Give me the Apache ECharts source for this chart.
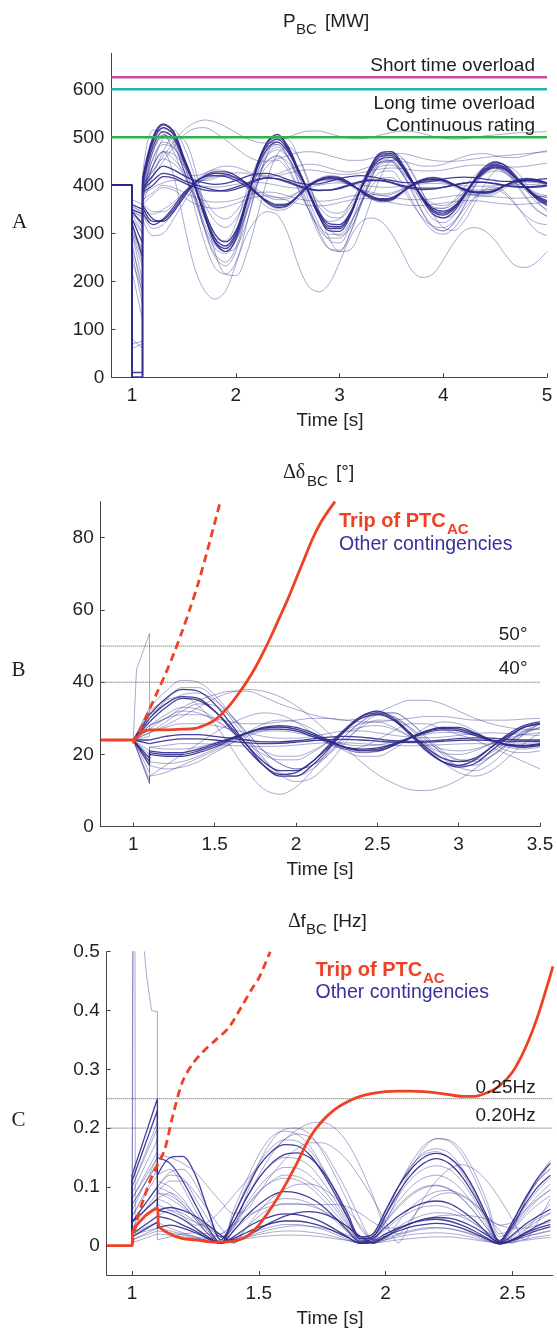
<!DOCTYPE html>
<html>
<head>
<meta charset="utf-8">
<script src="https://cdn.jsdelivr.net/npm/echarts@6/dist/echarts.min.js"></script>
<style>
  html, body { margin: 0; padding: 0; background: #ffffff; }
  #chart { width: 557px; height: 1331px; }
</style>
</head>
<body>
<div id="chart"></div>
<script>
// ---------------- Panel A: active power P_BC [MW] ----------------
const timeA = [1.1,1.2,1.3,1.4,1.5,1.6,1.7,1.8,1.9,2.0,2.1,2.2,2.3,2.4,2.5,2.6,2.7,2.8,2.9,3.0,
               3.1,3.2,3.3,3.4,3.5,3.6,3.7,3.8,3.9,4.0,4.1,4.2,4.3,4.4,4.5,4.6,4.7,4.8,4.9,5.0];
const powerPreFault = 400;
const powerTicksX = [1, 2, 3, 4, 5];
const powerTicksY = [0, 100, 200, 300, 400, 500, 600];
const shortTimeOverload = 625;
const longTimeOverload = 600;
const continuousRating = 500;

const powerInPhase = [
  { fault: [0, 0],     wave: [410,495,526,510,455,400,335,282,268,295,365,440,488,502,478,432,385,338,310,310,338,392,438,465,466,442,408,372,345,338,350,378,410,434,444,436,416,394,374,362] },
  { fault: [0, 0],     wave: [400,480,512,498,450,402,345,298,282,305,368,432,475,490,470,430,388,345,320,318,342,390,430,455,458,438,405,375,352,346,356,380,408,428,438,432,414,395,378,368] },
  { fault: [340, 300], wave: [390,500,520,505,445,385,310,255,240,270,350,435,490,505,480,425,370,320,285,280,315,375,430,465,470,445,405,360,330,322,336,370,408,438,450,442,418,390,364,350] },
  { fault: [360, 340], wave: [380,440,470,465,440,405,370,340,330,345,380,420,450,460,448,420,392,365,345,342,360,392,420,440,442,428,405,380,362,358,366,386,408,424,430,425,410,396,384,378] },
  { fault: [300, 200], wave: [360,470,505,495,440,380,305,250,232,262,340,420,470,485,462,412,360,305,268,262,300,360,418,450,452,428,390,345,315,305,322,358,398,428,440,432,406,376,350,335] },
  { fault: [350, 330], wave: [420,515,510,470,420,380,330,290,285,320,385,445,480,485,460,420,380,345,325,330,360,400,438,455,450,425,395,368,352,352,368,395,420,435,436,425,405,388,378,375] },
  { fault: [0, 0],     wave: [405,490,520,505,452,398,338,288,274,300,366,436,482,496,474,430,386,342,315,314,340,390,434,460,462,440,406,374,348,342,353,379,409,431,441,434,415,394,376,365] },
  { fault: [320, 260], wave: [395,485,518,508,458,404,342,290,272,296,362,434,484,500,478,434,388,343,314,312,336,388,434,462,464,443,409,374,347,340,351,377,408,432,443,436,417,395,375,364] },
  { fault: [0, 0],     wave: [415,500,528,512,458,402,336,280,262,288,360,438,490,506,482,435,386,336,305,304,334,390,440,468,470,446,410,370,340,332,345,376,412,438,448,440,418,393,372,358] },
  { fault: [350, 310], wave: [385,455,485,478,445,405,360,325,312,330,372,425,462,474,458,425,390,356,335,332,352,390,425,448,450,432,405,376,356,352,361,384,410,428,435,428,411,394,381,374] },
  { fault: [270, 190], wave: [370,440,500,515,480,420,350,290,262,270,320,395,462,498,496,460,405,350,310,295,310,355,410,452,468,458,425,384,350,332,338,365,402,432,446,442,422,396,372,358] }
];
const powerAntiPhase = [
  { fault: [330, 280], wave: [360,330,325,345,375,403,420,428,428,420,405,385,364,354,358,378,400,412,418,416,405,388,374,368,370,385,402,412,416,412,402,390,384,383,388,400,410,414,412,405] },
  { fault: [320, 250], wave: [345,318,330,355,385,405,418,420,418,410,398,382,368,360,362,378,398,410,414,412,402,390,378,372,374,386,400,410,412,410,402,392,386,386,390,400,408,410,408,404] },
  { fault: [280, 170], wave: [330,295,300,330,365,395,415,425,422,412,395,375,355,348,352,372,395,410,416,412,400,385,372,366,368,382,398,408,412,408,398,386,378,376,382,395,405,410,408,400] },
  { fault: [355, 345], wave: [350,340,350,365,385,400,412,418,420,416,406,392,380,374,376,386,398,408,410,408,400,392,386,382,384,392,400,406,408,406,400,394,390,390,393,400,405,407,405,402] },
  { fault: [345, 320], wave: [355,325,328,350,380,404,419,425,424,416,402,384,366,357,360,378,399,411,416,414,404,389,376,370,372,386,401,410,414,410,401,391,386,385,389,400,409,412,410,404] },
  { fault: [300, 230], wave: [340,310,318,345,378,406,424,432,430,420,403,382,362,352,356,376,400,414,420,417,405,387,372,365,368,384,402,413,417,413,402,389,381,380,386,400,411,415,412,405] },
  { fault: [360, 350], wave: [365,345,345,360,382,402,414,420,420,414,402,388,376,370,372,384,399,409,412,410,401,391,383,379,381,390,400,407,410,408,401,393,388,387,391,400,406,409,407,403] }
];
const powerSteady = [
  { fault: [360, 350], wave: [390,410,425,420,410,402,395,390,388,392,400,410,415,414,408,400,394,390,390,393,400,406,410,410,406,400,396,394,394,396,400,404,406,406,404,400,398,397,398,400] },
  { fault: [370, 360], wave: [380,395,405,410,408,402,398,396,398,402,405,406,404,400,396,394,396,400,404,405,403,400,398,396,396,398,401,403,404,403,401,399,398,398,399,401,402,402,401,400] },
  { fault: [80, 60],   wave: [370,385,400,395,385,375,368,365,366,370,378,384,386,384,378,372,368,367,368,372,377,380,381,379,375,372,370,370,372,375,378,380,380,378,376,374,373,374,376,378] },
  { fault: [340, 320], wave: [400,440,470,455,430,420,425,435,440,438,430,422,420,424,432,440,444,442,436,430,428,432,440,448,452,450,445,440,440,444,452,460,465,466,462,458,458,462,468,472] },
  { fault: [10, 10],   wave: [395,420,440,432,420,410,405,402,404,410,418,424,425,420,412,405,402,403,408,414,418,420,418,414,410,406,405,406,409,413,416,417,416,413,410,408,408,410,412,414] },
  { fault: [350, 340], wave: [385,400,418,415,405,396,390,388,390,396,404,412,416,413,406,398,392,389,390,395,402,408,411,410,405,398,393,391,392,396,401,405,407,406,403,399,396,395,396,399] },
  { fault: [330, 300], wave: [400,430,455,445,425,412,410,415,422,426,425,420,418,420,425,430,432,430,426,423,423,426,430,434,436,435,432,430,430,432,436,440,442,442,440,438,438,440,443,446] },
  { fault: [60, 70],   wave: [360,380,395,390,375,362,355,352,355,362,370,376,378,375,368,362,358,357,359,364,369,372,372,369,364,360,358,358,360,363,366,368,368,366,363,361,360,361,363,365] }
];
const powerOutliers = [
  { fault: [260, 150], wave: [380,440,470,420,320,230,180,163,180,235,295,330,345,338,300,235,190,178,195,240,290,322,332,325,300,262,222,208,215,245,280,305,312,305,285,255,232,229,240,262] },
  { fault: [220, 120], wave: [360,420,470,500,495,440,350,260,215,212,255,330,410,465,480,460,410,345,290,262,265,305,365,420,452,455,428,385,340,312,306,325,362,402,430,440,430,402,370,345] },
  { fault: [345, 335], wave: [400,430,460,490,515,530,536,532,522,510,498,490,488,492,500,508,513,513,508,502,498,497,500,505,510,513,512,508,502,498,496,497,500,503,505,507,509,510,511,512] },
  { fault: [300, 270], wave: [390,420,450,480,505,518,520,510,495,478,462,452,450,455,462,468,470,468,462,456,452,452,456,462,466,466,462,456,452,450,450,452,455,458,460,462,464,466,468,470] },
  { fault: [70, 75],   wave: [390,470,500,485,430,370,310,268,258,285,345,408,450,462,440,395,350,310,290,290,318,362,405,428,430,405,368,330,305,298,310,340,372,392,396,385,360,330,305,295] },
  { fault: [310, 240], wave: [380,455,490,480,430,375,318,275,262,285,340,400,440,452,432,392,350,315,298,298,322,360,395,415,416,395,362,332,315,312,325,350,375,390,392,380,358,336,322,318] },
  { fault: [240, 180], wave: [385,470,505,490,430,355,280,228,215,240,315,400,462,480,458,408,350,298,268,265,298,355,412,445,448,425,385,342,312,305,320,355,395,425,436,428,402,372,348,336] }
];

// ---------------- Panel B: angle difference Δδ_BC [°] ----------------
const timeB = [1.1,1.2,1.3,1.4,1.5,1.6,1.7,1.8,1.9,2.0,2.1,2.2,2.3,2.4,2.5,2.6,2.7,2.8,2.9,3.0,3.1,3.2,3.3,3.4,3.5];
const anglePreFault = 24;
const angleTicksX = [1, 1.5, 2, 2.5, 3, 3.5];
const angleTicksY = [0, 20, 40, 60, 80];
const angleLimits = [50, 40];

const angleInPhase = [
  { fault: 33, wave: [33,37.5,40.5,40,36.5,31,25,19,14.5,12.5,13.5,17.5,23,28,31,31.5,29,24.5,20,16.5,15.5,17.5,21.5,25.5,28.5] },
  { fault: 30, wave: [30,34,36,35.5,32,27,21.5,17,14.5,15,18,22.5,27,30.5,31.5,29.5,25.5,21,18,17,18.5,22,25.5,28,29] },
  { fault: 29, wave: [29,33,35.5,35,32,27.5,22.5,18,15.5,15.5,18,22,26.5,30,31,29.5,26,22,19,18,19,22,25,27.5,28.5] },
  { fault: 27, wave: [28,31,33,32.5,30,26.5,23,20,18.5,18.5,20.5,23.5,26.5,28.5,29,27.5,25,22.5,20.5,20,21,23,25,26.5,27] },
  { fault: 32, wave: [32,35,36,33.5,28.5,22,15.5,10.5,9,11,15.5,21,26.5,30.5,32,30.5,27,22.5,18,15,14,15.5,19,23,26] },
  { fault: 12, wave: [14,17,20,23,26,28.5,30.5,31.5,31,29,26,23,21.5,22,24,26.5,28.5,28.5,27,25.5,24,22,20,18,16] },
  { fault: 31, wave: [31,35.5,38,37.5,34,28.5,22.5,17,14,14,17,21.5,26.5,30.5,32,30,26,21.5,18,16.5,17.5,21,24.5,27.5,28.5] },
  { fault: 30, wave: [30,35,38.5,38.5,35.5,30,24,18.5,15,14,16,20,25,29,31,30.5,27.5,23,19,17,17,19.5,23,26.5,28.5] },
  { fault: 27, wave: [27,30,32,31.5,29.5,26.5,23.5,21,19.5,19.5,21,23.5,26,27.5,28,27,25,23,21.5,21,21.5,23,24.5,25.5,26] },
  { fault: 26, wave: [26,29,32,34,33.5,30.5,26,21,17.5,16,17,20,24,27.5,29.5,29.5,27.5,24,20.5,18.5,18.5,20.5,23.5,26,27.5] }
];
const angleSlow = [
  { fault: 25, wave: [26,28,30.5,33,35.5,37.2,38,37.5,36,33.5,30,26,22,18,14.5,12,10.3,10,11,13,16,19.5,23,26,28.5] },
  { fault: 28, wave: [28,30,33,35,36.5,37.5,37.5,36,34,32.5,31,30,29.5,30,31.5,33.5,35,35,34,32,30,28.5,27.5,27,27] }
];
const angleAntiPhase = [
  { fault: 17, wave: [20,19.5,19.5,20.5,22,24,26,27.5,28,27.5,26,24,22,21,21,22.5,24.5,26.5,27.5,27.5,26,24,22.5,22,22.5] },
  { fault: 19, wave: [21,20.5,20.5,21.5,23,24.5,26,27,27,26.5,25,23.5,22,21.5,21.8,23,24.5,26,26.8,26.5,25.3,23.8,22.8,22.5,23] },
  { fault: 13, wave: [17,16,16.5,18,20.5,23,26,28.5,29.5,29,27,24,21,19.5,19.5,21.5,24.5,27.5,29,28.5,26.5,23.5,21,20.5,21] },
  { fault: 12, wave: [14,15,17,19,21,23,25,26.5,27,26.5,25,23,21.5,20.5,21,22.5,24.5,26.5,27.5,27,25.5,23.5,22,21.5,22] },
  { fault: 18, wave: [20.5,20,20,21,22.5,24.3,26,27.3,27.6,27,25.5,23.8,22,21.2,21.4,22.8,24.6,26.3,27.2,27,25.7,24,22.7,22.3,22.8] },
  { fault: 15, wave: [18,17.5,18,19.5,21.5,23.5,25.5,27,27.5,27,25.5,23.5,21.5,20.5,20.8,22.3,24.3,26.2,27.3,27.2,25.8,23.9,22.4,21.9,22.4] },
  { fault: 20, wave: [22,21.5,21.5,22,23.2,24.6,25.8,26.5,26.5,26,25,23.8,22.8,22.4,22.6,23.5,24.6,25.6,26.1,26,25.2,24.2,23.4,23.1,23.3] }
];
const angleSteady = [
  { fault: 24, wave: [24,25,25.5,25.5,25,24.5,24,23.5,23.5,23.8,24.3,24.8,25,24.8,24.3,23.8,23.6,23.7,24,24.4,24.6,24.5,24.2,24,24] },
  { fault: 21, wave: [22,22.5,23,23,22.8,22.5,22.3,22.2,22.3,22.6,23,23.2,23.2,23,22.7,22.5,22.4,22.5,22.7,22.9,23,22.9,22.7,22.6,22.6] },
  { fault: 26, wave: [26,27.5,28.5,28.5,28,27,26,25,24.5,24.5,25,25.8,26.5,26.5,26,25.3,24.8,24.6,24.8,25.3,25.8,26,25.8,25.5,25.2] },
  { fault: 23, wave: [23,23.8,24.3,24.3,24,23.6,23.2,23,23.1,23.4,23.8,24.1,24.2,24,23.7,23.4,23.3,23.4,23.6,23.9,24,23.9,23.7,23.6,23.6] },
  { fault: 28, wave: [28,30,31,31,30,29,28.5,28.5,29,29.5,30,30,29.5,29,29,29.5,30,30.5,30.5,30,29.5,29.5,29.5,29.8,30] }
];
const angleSpikePath = [[1.0, 24], [1.02, 43.5], [1.1, 53.5]];
const angleSpikeWave = [31,34,36.5,37,35,31,26,21,17.5,16,17,20.5,25,29,31.5,31.5,29,25,21,18.5,18,19.5,22.5,25.5,27.5];

const angleTripSolid = [[0.8,24],[1.0,24],[1.05,26],[1.1,26.8],[1.2,26.8],[1.3,27],[1.38,27.2],[1.45,28.3],[1.5,29.5],
  [1.55,31.5],[1.6,34],[1.65,37],[1.7,40.3],[1.75,44],[1.8,48.3],[1.85,53],[1.9,58],[1.95,63],[2.0,68.5],
  [2.05,74],[2.1,79.5],[2.15,84],[2.2,87.5],[2.24,90]];
const angleTripDashed = [[1.0,23],[1.05,27.5],[1.1,32.5],[1.15,37.5],[1.2,42.5],[1.25,48],[1.3,54],[1.35,60.5],
  [1.4,67.5],[1.45,75.5],[1.5,84],[1.535,90]];

// ---------------- Panel C: frequency difference Δf_BC [Hz] ----------------
const timeC = [1.1,1.15,1.2,1.25,1.3,1.35,1.4,1.45,1.5,1.55,1.6,1.65,1.7,1.75,1.8,1.85,1.9,1.95,2.0,2.05,
               2.1,2.15,2.2,2.25,2.3,2.35,2.4,2.45,2.5,2.55,2.6,2.65];
const freqTicksX = [1, 1.5, 2, 2.5];
const freqTicksY = [0, 0.1, 0.2, 0.3, 0.4, 0.5];
const freqLimits = [0.25, 0.2];

const freqSwing = [
  { fault: [0.1, 0.21],   wave: [0.12,0.13,0.1,0.06,0.025,0.003,0.06,0.11,0.155,0.185,0.195,0.19,0.17,0.135,0.095,0.05,0.012,0.02,0.06,0.1,0.135,0.155,0.16,0.15,0.125,0.09,0.045,0.005,0.04,0.08,0.11,0.13] },
  { fault: [0.12, 0.25],  wave: [0.15,0.14,0.11,0.07,0.03,0.004,0.05,0.095,0.135,0.16,0.172,0.17,0.155,0.125,0.088,0.048,0.012,0.015,0.052,0.09,0.12,0.14,0.148,0.14,0.118,0.085,0.045,0.006,0.035,0.07,0.1,0.12] },
  { fault: [0.08, 0.16],  wave: [0.1,0.12,0.115,0.08,0.045,0.015,0.03,0.085,0.14,0.178,0.198,0.2,0.19,0.16,0.12,0.075,0.03,0.01,0.05,0.1,0.14,0.17,0.182,0.178,0.155,0.115,0.065,0.015,0.03,0.075,0.11,0.14] },
  { fault: [0.03, 0.09],  wave: [0.08,0.07,0.05,0.035,0.04,0.06,0.085,0.11,0.135,0.16,0.18,0.197,0.208,0.21,0.2,0.175,0.135,0.085,0.03,0.02,0.045,0.07,0.085,0.09,0.085,0.07,0.05,0.035,0.04,0.06,0.08,0.095] },
  { fault: [0.11, 0.23],  wave: [0.12,0.15,0.152,0.12,0.06,0.01,0.04,0.08,0.115,0.14,0.155,0.158,0.15,0.128,0.095,0.055,0.015,0.02,0.06,0.1,0.13,0.15,0.157,0.15,0.13,0.095,0.05,0.008,0.04,0.08,0.115,0.14] },
  { fault: [0.05, 0.13],  wave: [0.07,0.06,0.05,0.04,0.03,0.02,0.04,0.08,0.12,0.155,0.18,0.19,0.185,0.165,0.13,0.09,0.045,0.01,0.04,0.085,0.13,0.165,0.182,0.18,0.162,0.125,0.075,0.02,0.03,0.075,0.115,0.145] },
  { fault: [0.08, 0.15],  wave: [0.09,0.085,0.07,0.045,0.02,0.004,0.035,0.07,0.1,0.122,0.133,0.132,0.12,0.098,0.07,0.038,0.008,0.015,0.045,0.075,0.1,0.115,0.12,0.113,0.095,0.068,0.035,0.004,0.03,0.06,0.085,0.105] },
  { fault: [0.09, 0.18],  wave: [0.11,0.1,0.08,0.05,0.02,0.004,0.05,0.1,0.14,0.167,0.18,0.178,0.163,0.132,0.093,0.05,0.01,0.018,0.058,0.1,0.135,0.158,0.165,0.158,0.133,0.096,0.05,0.006,0.038,0.078,0.11,0.132] },
  { fault: [0.07, 0.14],  wave: [0.08,0.09,0.075,0.05,0.025,0.006,0.04,0.08,0.115,0.138,0.15,0.148,0.136,0.11,0.078,0.042,0.008,0.016,0.05,0.085,0.113,0.13,0.136,0.13,0.11,0.078,0.04,0.005,0.033,0.066,0.094,0.115] },
  { fault: [0.1, 0.2],    wave: [0.1,0.125,0.13,0.105,0.06,0.015,0.03,0.065,0.092,0.108,0.115,0.112,0.1,0.08,0.056,0.03,0.006,0.015,0.042,0.068,0.088,0.1,0.103,0.097,0.082,0.058,0.03,0.004,0.028,0.055,0.078,0.095] }
];
const freqSmall = [
  { fault: [0.06, 0.15],  wave: [0.1,0.09,0.07,0.045,0.02,0.005,0.035,0.065,0.09,0.11,0.12,0.118,0.107,0.088,0.063,0.035,0.008,0.015,0.04,0.065,0.085,0.098,0.102,0.096,0.08,0.057,0.03,0.004,0.025,0.05,0.07,0.085] },
  { fault: [0.04, 0.1],   wave: [0.06,0.055,0.045,0.03,0.015,0.004,0.025,0.05,0.07,0.085,0.092,0.09,0.082,0.068,0.048,0.026,0.006,0.012,0.032,0.05,0.064,0.073,0.076,0.072,0.06,0.043,0.022,0.004,0.018,0.036,0.05,0.062] },
  { fault: [0.02, 0.05],  wave: [0.05,0.045,0.035,0.025,0.012,0.004,0.015,0.03,0.042,0.05,0.054,0.053,0.048,0.04,0.028,0.015,0.004,0.008,0.02,0.03,0.038,0.043,0.045,0.042,0.035,0.025,0.013,0.003,0.01,0.021,0.03,0.036] },
  { fault: [0.01, 0.03],  wave: [0.04,0.03,0.022,0.015,0.008,0.004,0.01,0.018,0.026,0.032,0.036,0.036,0.033,0.028,0.02,0.011,0.004,0.006,0.013,0.02,0.026,0.03,0.031,0.029,0.024,0.017,0.009,0.003,0.008,0.015,0.021,0.026] },
  { fault: [0.07, 0.14],  wave: [0.09,0.11,0.11,0.09,0.06,0.03,0.01,0.03,0.05,0.065,0.072,0.072,0.068,0.06,0.048,0.032,0.016,0.005,0.018,0.032,0.044,0.052,0.056,0.055,0.049,0.038,0.024,0.01,0.012,0.028,0.042,0.055] },
  { fault: [0.02, 0.04],  wave: [0.03,0.025,0.02,0.015,0.012,0.02,0.035,0.05,0.06,0.067,0.07,0.07,0.07,0.07,0.07,0.066,0.055,0.04,0.03,0.03,0.038,0.045,0.05,0.052,0.052,0.05,0.045,0.035,0.03,0.03,0.035,0.04] },
  { fault: [0.04, 0.08],  wave: [0.06,0.065,0.06,0.05,0.035,0.018,0.006,0.015,0.028,0.04,0.05,0.056,0.058,0.055,0.046,0.032,0.016,0.004,0.015,0.028,0.038,0.045,0.048,0.047,0.041,0.031,0.018,0.005,0.01,0.022,0.034,0.044] },
  { fault: [0.005, 0.02], wave: [0.02,0.018,0.015,0.012,0.01,0.008,0.01,0.012,0.015,0.017,0.018,0.018,0.017,0.015,0.012,0.009,0.006,0.005,0.007,0.01,0.012,0.014,0.015,0.015,0.013,0.01,0.007,0.004,0.006,0.009,0.012,0.014] },
  { fault: [0.05, 0.12],  wave: [0.09,0.08,0.065,0.048,0.03,0.014,0.004,0.03,0.058,0.08,0.095,0.104,0.105,0.098,0.082,0.06,0.035,0.01,0.012,0.04,0.065,0.082,0.092,0.094,0.087,0.072,0.05,0.025,0.004,0.025,0.05,0.07] },
  { fault: [0.03, 0.07],  wave: [0.05,0.06,0.055,0.04,0.02,0.004,0.025,0.045,0.062,0.074,0.08,0.079,0.072,0.06,0.043,0.023,0.005,0.01,0.028,0.045,0.058,0.066,0.068,0.064,0.053,0.038,0.02,0.003,0.015,0.032,0.046,0.056] },
  { fault: [0.015, 0.04], wave: [0.03,0.035,0.03,0.022,0.012,0.004,0.012,0.022,0.031,0.038,0.042,0.042,0.039,0.033,0.024,0.014,0.004,0.006,0.016,0.025,0.032,0.036,0.038,0.036,0.03,0.021,0.011,0.003,0.009,0.018,0.026,0.032] },
  { fault: [0.01, 0.025], wave: [0.025,0.022,0.018,0.013,0.008,0.004,0.009,0.014,0.019,0.023,0.025,0.025,0.023,0.02,0.015,0.009,0.004,0.005,0.01,0.015,0.019,0.021,0.022,0.021,0.018,0.013,0.008,0.003,0.006,0.011,0.015,0.018] }
];
const freqSpikePaths = [
  [[1.0,0],[1.006,0.7],[1.035,0.56],[1.058,0.457],[1.077,0.4],[1.1,0.398]],
  [[1.0,0],[1.003,0.7],[1.011,0.7],[1.013,0.02],[1.1,0.03]]
];
const freqSpikeWaves = [
  [0.155,0.15,0.14,0.125,0.1,0.075,0.055,0.06,0.09,0.12,0.145,0.165,0.175,0.175,0.165,0.145,0.115,0.08,0.04,0.005,0.04,0.08,0.11,0.13,0.138,0.13,0.11,0.08,0.045,0.01,0.04,0.08],
  [0.01,0.015,0.02,0.022,0.02,0.015,0.01,0.015,0.022,0.028,0.032,0.034,0.033,0.03,0.025,0.018,0.01,0.004,0.01,0.018,0.024,0.028,0.03,0.029,0.025,0.019,0.012,0.004,0.008,0.015,0.02,0.025]
];
const freqTripSolid = [[0.9,0],[1.0,0],[1.002,0.022],[1.05,0.05],[1.1,0.064],[1.105,0.034],[1.15,0.02],[1.2,0.012],
  [1.25,0.01],[1.3,0.007],[1.35,0.006],[1.4,0.008],[1.45,0.015],[1.5,0.035],[1.55,0.065],[1.6,0.1],[1.65,0.14],
  [1.7,0.183],[1.75,0.212],[1.8,0.232],[1.85,0.245],[1.9,0.254],[1.95,0.259],[2.0,0.262],[2.05,0.263],[2.1,0.263],
  [2.15,0.262],[2.2,0.26],[2.25,0.257],[2.3,0.254],[2.35,0.254],[2.4,0.26],[2.45,0.272],[2.5,0.295],[2.55,0.335],
  [2.6,0.39],[2.65,0.46],[2.66,0.475]];
const freqTripDashed = [[1.0,0],[1.02,0.045],[1.05,0.085],[1.08,0.12],[1.11,0.145],[1.13,0.165],[1.16,0.22],[1.2,0.28],
  [1.24,0.31],[1.28,0.33],[1.33,0.35],[1.38,0.37],[1.43,0.405],[1.47,0.435],[1.5,0.455],[1.545,0.5]];

// ---------------- styling ----------------
const SANS = '"Liberation Sans", Arial, Helvetica, sans-serif';
const SERIF = '"Liberation Serif", "Times New Roman", serif';
const BLUE = '#2e2a8c';
const RED = '#ef4123';
const AXIS = '#444444';
const LABEL = '#1f1f1f';

const light = { color: BLUE, width: 0.8, opacity: 0.5 };
const dense = { color: BLUE, width: 1.3, opacity: 0.9 };

const series = [];

function addLine(grid, data, style, smooth, z) {
  series.push({
    type: 'line', xAxisIndex: grid, yAxisIndex: grid, data: data,
    symbol: 'none', showSymbol: false, smooth: smooth || false, silent: true,
    lineStyle: Object.assign({}, style), z: z || 2, animation: false
  });
}
function pair(times, values) {
  return times.map((t, i) => [t, values[i]]);
}

// Panel A curves
function addPower(group, denseIdx) {
  group.forEach((c, i) => {
    const st = denseIdx.indexOf(i) >= 0 ? dense : light;
    addLine(0, [[0.8, powerPreFault], [1.0, powerPreFault], [1.0, c.fault[0]], [1.1, c.fault[1]], [1.1, c.wave[0]]], st, false);
    addLine(0, pair(timeA, c.wave), st, 0.35);
  });
}
addPower(powerInPhase, [0, 1, 6, 8]);
addPower(powerAntiPhase, [0, 1, 4]);
addPower(powerSteady, [0, 4, 5]);
addPower(powerOutliers, []);

addLine(0, [[0.8, shortTimeOverload], [5, shortTimeOverload]], { color: '#c94c9e', width: 2.6 }, false, 5);
addLine(0, [[0.8, longTimeOverload], [5, longTimeOverload]], { color: '#1fb5b5', width: 2.6 }, false, 5);
addLine(0, [[0.8, continuousRating], [5, continuousRating]], { color: '#2fb14b', width: 2.6 }, false, 5);

// Panel B curves
addLine(1, [[0.8, angleLimits[0]], [3.5, angleLimits[0]]], { color: '#555', width: 1, type: 'dotted' }, false, 1);
addLine(1, [[0.8, angleLimits[1]], [3.5, angleLimits[1]]], { color: '#555', width: 1, type: 'dotted' }, false, 1);
function addAngle(group, denseIdx) {
  group.forEach((c, i) => {
    const st = denseIdx.indexOf(i) >= 0 ? dense : light;
    addLine(1, [[0.8, anglePreFault], [1.0, anglePreFault], [1.1, c.fault], [1.1, c.wave[0]]], st, false);
    addLine(1, pair(timeB, c.wave), st, 0.35);
  });
}
addAngle(angleInPhase, [1, 2, 6]);
addAngle(angleSlow, []);
addAngle(angleAntiPhase, [0, 1, 4]);
addAngle(angleSteady, [0, 3]);
addLine(1, [[0.8, anglePreFault]].concat(angleSpikePath, [[1.1, angleSpikeWave[0]]]), light, false);
addLine(1, pair(timeB, angleSpikeWave), light, 0.35);
addLine(1, angleTripSolid, { color: RED, width: 2.8 }, 0.3, 8);
addLine(1, angleTripDashed, { color: RED, width: 2.8, type: [8, 5] }, 0.3, 8);

// Panel C curves
addLine(2, [[0.9, freqLimits[0]], [2.66, freqLimits[0]]], { color: '#555', width: 1, type: 'dotted' }, false, 1);
addLine(2, [[0.9, freqLimits[1]], [2.66, freqLimits[1]]], { color: '#555', width: 1, type: 'dotted' }, false, 1);
function addFreq(group, denseIdx) {
  group.forEach((c, i) => {
    const st = denseIdx.indexOf(i) >= 0 ? dense : light;
    addLine(2, [[0.9, 0], [1.0, 0], [1.0, c.fault[0]], [1.1, c.fault[1]], [1.1, c.wave[0]]], st, false);
    addLine(2, pair(timeC, c.wave), st, 0.3);
  });
}
addFreq(freqSwing, [1, 4]);
addFreq(freqSmall, [1, 2, 6, 10]);
freqSpikePaths.forEach((p, i) => {
  addLine(2, [[0.9, 0]].concat(p, [[1.1, freqSpikeWaves[i][0]]]), light, false);
  addLine(2, pair(timeC, freqSpikeWaves[i]), light, 0.3);
});
addLine(2, freqTripSolid, { color: RED, width: 2.8 }, 0.3, 8);
addLine(2, freqTripDashed, { color: RED, width: 2.8, type: [8, 5] }, 0.3, 8);

// ---------------- axes ----------------
function xAxisFor(grid, min, max, ticks) {
  return {
    gridIndex: grid, type: 'value', min: min, max: max,
    axisLine: { show: true, onZero: false, lineStyle: { color: AXIS, width: 1 } },
    axisTick: { show: true, inside: true, length: 4, customValues: ticks, lineStyle: { color: AXIS } },
    axisLabel: { customValues: ticks, margin: 9, fontSize: 19, fontFamily: SANS, color: LABEL },
    splitLine: { show: false }
  };
}
function yAxisFor(grid, min, max, ticks) {
  return {
    gridIndex: grid, type: 'value', min: min, max: max,
    axisLine: { show: true, onZero: false, lineStyle: { color: AXIS, width: 1 } },
    axisTick: { show: true, inside: true, length: 4, customValues: ticks, lineStyle: { color: AXIS } },
    axisLabel: { customValues: ticks, margin: 7, fontSize: 19, fontFamily: SANS, color: LABEL },
    splitLine: { show: false }
  };
}

// ---------------- text ----------------
function txt(x, y, s, o) {
  o = o || {};
  return {
    type: 'text', x: x, y: y, silent: true, z: 20,
    style: {
      text: s, fill: o.fill || LABEL,
      fontSize: o.size || 19, fontFamily: o.family || SANS, fontWeight: o.weight || 'normal',
      textAlign: o.align || 'left', textVerticalAlign: 'middle'
    }
  };
}
const graphics = [
  // panel A
  txt(19.5, 222, 'A', { family: SERIF, size: 21, align: 'center' }),
  txt(283, 22, 'P'), txt(296, 30, 'BC', { size: 15 }), txt(325, 22, '[MW]'),
  txt(535, 66, 'Short time overload', { align: 'right' }),
  txt(535, 104, 'Long time overload', { align: 'right' }),
  txt(535, 126, 'Continuous rating', { align: 'right' }),
  txt(330, 421, 'Time [s]', { align: 'center' }),
  // panel B
  txt(18.5, 670, 'B', { family: SERIF, size: 21, align: 'center' }),
  txt(283, 473, 'Δδ', { family: SERIF, size: 20 }), txt(307, 482, 'BC', { size: 15 }), txt(336, 473, '[°]'),
  txt(527.5, 635, '50°', { align: 'right' }),
  txt(527.5, 669, '40°', { align: 'right' }),
  txt(339, 521, 'Trip of PTC', { fill: RED, weight: 'bold', size: 20 }),
  txt(447, 530, 'AC', { fill: RED, weight: 'bold', size: 15 }),
  txt(339, 545, 'Other contingencies', { fill: '#35329c', size: 19.5 }),
  txt(320, 870, 'Time [s]', { align: 'center' }),
  // panel C
  txt(18.5, 1120, 'C', { family: SERIF, size: 21, align: 'center' }),
  txt(288, 922, 'Δ', { family: SERIF, size: 20 }), txt(300.5, 922, 'f'), txt(306, 930, 'BC', { size: 15 }), txt(333, 922, '[Hz]'),
  txt(535.7, 1088, '0.25Hz', { align: 'right' }),
  txt(535.7, 1116, '0.20Hz', { align: 'right' }),
  txt(315.5, 970, 'Trip of PTC', { fill: RED, weight: 'bold', size: 20 }),
  txt(423, 979, 'AC', { fill: RED, weight: 'bold', size: 15 }),
  txt(315.5, 993, 'Other contingencies', { fill: '#35329c', size: 19.5 }),
  txt(330, 1319, 'Time [s]', { align: 'center' })
];

const chart = echarts.init(document.getElementById('chart'), null, { renderer: 'canvas' });
chart.setOption({
  animation: false,
  backgroundColor: '#ffffff',
  grid: [
    { left: 111.4, right: 10, top: 53.3, bottom: 953.7 },
    { left: 100.7, right: 17, top: 501.6, bottom: 504.3 },
    { left: 106.7, right: 4.1, top: 951.7, bottom: 55.9 }
  ],
  xAxis: [
    xAxisFor(0, 0.8, 5, powerTicksX),
    xAxisFor(1, 0.8, 3.5, angleTicksX),
    xAxisFor(2, 0.9, 2.66, freqTicksX)
  ],
  yAxis: [
    yAxisFor(0, 0, 675, powerTicksY),
    yAxisFor(1, 0, 90, angleTicksY),
    yAxisFor(2, -0.05, 0.5, freqTicksY)
  ],
  series: series,
  graphic: graphics
});
</script>
</body>
</html>
